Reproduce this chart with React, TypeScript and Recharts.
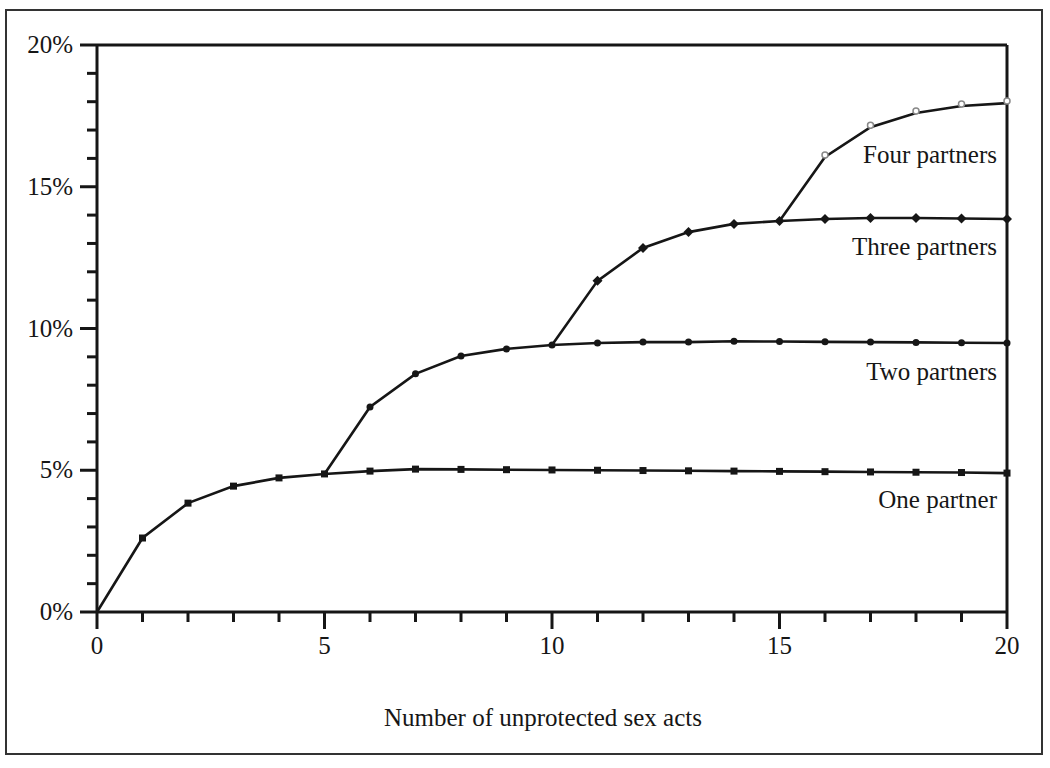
import { LineChart, Line, XAxis, YAxis, ReferenceLine } from 'recharts';

const acts = [0, 1, 2, 3, 4, 5, 6, 7, 8, 9, 10, 11, 12, 13, 14, 15, 16, 17, 18, 19, 20];
const yTicks = [0, 1, 2, 3, 4, 5, 6, 7, 8, 9, 10, 11, 12, 13, 14, 15, 16, 17, 18, 19, 20];

const onePartner = [0, 2.61, 3.84, 4.44, 4.73, 4.87, 4.97, 5.04, 5.03, 5.02, 5.01, 5.0, 4.99, 4.98, 4.97, 4.96, 4.95, 4.94, 4.93, 4.92, 4.9];
const twoPartners = [null, null, null, null, null, 4.87, 7.23, 8.4, 9.03, 9.28, 9.42, 9.49, 9.52, 9.52, 9.55, 9.54, 9.53, 9.52, 9.51, 9.5, 9.49];
const threePartners = [null, null, null, null, null, null, null, null, null, null, 9.42, 11.68, 12.84, 13.4, 13.69, 13.79, 13.86, 13.9, 13.9, 13.88, 13.86];
const fourPartners = [null, null, null, null, null, null, null, null, null, null, null, null, null, null, null, 13.79, 16.05, 17.1, 17.6, 17.85, 17.95];

const seriesLabels = ['Four partners', 'Three partners', 'Two partners', 'One partner'];

const data = acts.map((x, i) => ({
  x,
  one: onePartner[i],
  two: twoPartners[i],
  three: threePartners[i],
  four: fourPartners[i],
}));

const FONT = '"Liberation Serif", "DejaVu Serif", serif';
const INK = '#161616';
const FS = 25;

const YTick = ({ x, y, payload }: any) => {
  const major = payload.value % 5 === 0;
  return (
    <g>
      <line x1={x} x2={x - (major ? 17 : 10)} y1={y} y2={y} stroke={INK} strokeWidth={3} />
      {major && (
        <text x={x - 24} y={y} dy={8} textAnchor="end" fontSize={FS} fontFamily={FONT} fill={INK}>
          {payload.value}%
        </text>
      )}
    </g>
  );
};

const XTick = ({ x, y, payload }: any) => {
  const major = payload.value % 5 === 0;
  return (
    <g>
      <line x1={x} x2={x} y1={y} y2={y + (major ? 17 : 10)} stroke={INK} strokeWidth={3} />
      {major && (
        <text x={x} y={y + 42} textAnchor="middle" fontSize={FS} fontFamily={FONT} fill={INK}>
          {payload.value}
        </text>
      )}
    </g>
  );
};

const makeDot = (shape: string, start: number) => (props: any) => {
  const { cx, cy, payload, index } = props;
  if (payload.x === start || cy == null) return <g key={index} />;
  if (shape === 'square') {
    return <rect key={index} x={cx - 3.5} y={cy - 3.5} width={7} height={7} fill={INK} />;
  }
  if (shape === 'circle') {
    return <circle key={index} cx={cx} cy={cy} r={3.5} fill={INK} />;
  }
  if (shape === 'diamond') {
    return <path key={index} d={`M${cx},${cy - 5} L${cx + 5},${cy} L${cx},${cy + 5} L${cx - 5},${cy} Z`} fill={INK} />;
  }
  return <circle key={index} cx={cx} cy={cy - 2} r={3} fill="#fff" stroke="#888" strokeWidth={1.5} />;
};

const labelTops = [140, 232, 357, 485];

export default function App() {
  return (
    <div style={{ position: 'absolute', left: 0, top: 0, width: 1050, height: 768, background: '#fff' }}>
      <div
        style={{
          position: 'absolute', left: 5, top: 9, width: 1038, height: 746,
          border: '2px solid #333', boxSizing: 'border-box',
        }}
      />
      <LineChart
        width={1050}
        height={768}
        data={data}
        margin={{ top: 45, right: 43, left: 0, bottom: 116 }}
        style={{ position: 'absolute', left: 0, top: 0 }}
      >
        <XAxis
          dataKey="x"
          type="number"
          domain={[0, 20]}
          ticks={acts}
          interval={0}
          height={40}
          tickSize={0}
          tickMargin={0}
          tickLine={false}
          axisLine={{ stroke: INK, strokeWidth: 3 }}
          tick={<XTick />}
        />
        <YAxis
          type="number"
          domain={[0, 20]}
          ticks={yTicks}
          interval={0}
          width={97}
          tickSize={0}
          tickMargin={0}
          tickLine={false}
          axisLine={{ stroke: INK, strokeWidth: 3 }}
          tick={<YTick />}
        />
        <ReferenceLine y={20} stroke={INK} strokeWidth={3} />
        <ReferenceLine x={20} stroke={INK} strokeWidth={3} />
        <Line dataKey="one" type="linear" stroke={INK} strokeWidth={2.6} dot={makeDot('square', 0)} isAnimationActive={false} />
        <Line dataKey="two" type="linear" stroke={INK} strokeWidth={2.6} dot={makeDot('circle', 5)} isAnimationActive={false} />
        <Line dataKey="three" type="linear" stroke={INK} strokeWidth={2.6} dot={makeDot('diamond', 10)} isAnimationActive={false} />
        <Line dataKey="four" type="linear" stroke={INK} strokeWidth={2.6} dot={makeDot('open', 15)} isAnimationActive={false} />
      </LineChart>
      {seriesLabels.map((s, i) => (
        <div
          key={s}
          style={{
            position: 'absolute', right: 1050 - 997, top: labelTops[i],
            fontFamily: FONT, fontSize: FS, color: INK, whiteSpace: 'nowrap', lineHeight: '30px',
          }}
        >
          {s}
        </div>
      ))}
      <div
        style={{
          position: 'absolute', left: 0, width: 1086, top: 703, textAlign: 'center',
          fontFamily: FONT, fontSize: FS, color: INK, lineHeight: '30px',
        }}
      >
        Number of unprotected sex acts
      </div>
    </div>
  );
}
